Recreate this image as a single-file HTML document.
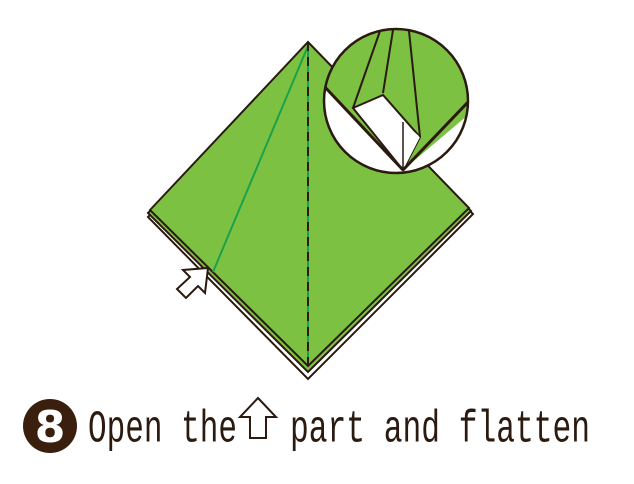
<!DOCTYPE html>
<html><head><meta charset="utf-8"><style>
html,body{margin:0;padding:0;background:#fff;width:634px;height:484px;overflow:hidden}
</style></head><body>
<svg width="634" height="484" viewBox="0 0 634 484">
<g>
<polygon points="148,217 308,55 473,214 308,379" fill="#fff" stroke="#2a1a10" stroke-width="2"/>
<polygon points="148,213 308,50 471,211 308,372" fill="#7dc142" stroke="#2a1a10" stroke-width="2"/>
</g>
<polygon points="150,210 308,42 469,208 308,366" fill="#7dc142" stroke="#2a1a10" stroke-width="2"/>
<line x1="308" y1="46" x2="213" y2="272" stroke="#1aa14a" stroke-width="2"/>
<line x1="308" y1="42" x2="308" y2="366" stroke="#1aa14a" stroke-width="2"/>
<line x1="308" y1="42" x2="308" y2="366" stroke="#2a1a10" stroke-width="2" stroke-dasharray="9,6"/>
<g>
<polygon points="208,268 205,293 198,286 186,298 177,289 190,277 183,270" fill="#fff" stroke="#2a1a10" stroke-width="2" stroke-linejoin="miter"/>
</g>
<g>
<defs><clipPath id="cc"><circle cx="396" cy="101" r="72"/></clipPath></defs>
<circle cx="396" cy="101" r="72" fill="#fff"/>
<g clip-path="url(#cc)">
<polygon points="300,20 500,20 500,88 403,170 310,70" fill="#7dc142"/>
<polygon points="353,108 383,95 420,137 403,170" fill="#fff" stroke="#2a1a10" stroke-width="2"/>
<polygon points="403,170 403,122 420,137" fill="#fff"/>
<line x1="403" y1="122" x2="403" y2="170" stroke="#2a1a10" stroke-width="1.5"/>
<line x1="322" y1="84" x2="403" y2="170" stroke="#2a1a10" stroke-width="3"/>
<line x1="470" y1="100" x2="403" y2="170" stroke="#2a1a10" stroke-width="3"/>
<line x1="380" y1="31" x2="353" y2="108" stroke="#2a1a10" stroke-width="2"/>
<line x1="393" y1="30" x2="383" y2="93" stroke="#2a1a10" stroke-width="2"/>
<line x1="409" y1="31" x2="420" y2="137" stroke="#2a1a10" stroke-width="2"/>
</g>
<circle cx="396" cy="101" r="72" fill="none" stroke="#2a1a10" stroke-width="2.5"/>
</g>
<g>
<circle cx="50" cy="426" r="27" fill="#3a1f0f"/>
<text x="50" y="442" text-anchor="middle" font-family="DejaVu Sans, sans-serif" font-weight="bold" font-size="44" fill="#fff">8</text>
</g>
<text x="88" y="441" font-family="Liberation Mono, monospace" font-size="30" fill="#2a1a10" transform="translate(0,-220) scale(1,1.5)" textLength="149" lengthAdjust="spacingAndGlyphs">Open the</text>
<g>
<polygon points="258,398 276,417 266,417 266,438 250,438 250,417 240,417" fill="#fff" stroke="#2a1a10" stroke-width="2"/>
</g>
<text x="290" y="441" font-family="Liberation Mono, monospace" font-size="30" fill="#2a1a10" transform="translate(0,-220) scale(1,1.5)" textLength="300" lengthAdjust="spacingAndGlyphs">part and flatten</text>
</svg>
</body></html>
